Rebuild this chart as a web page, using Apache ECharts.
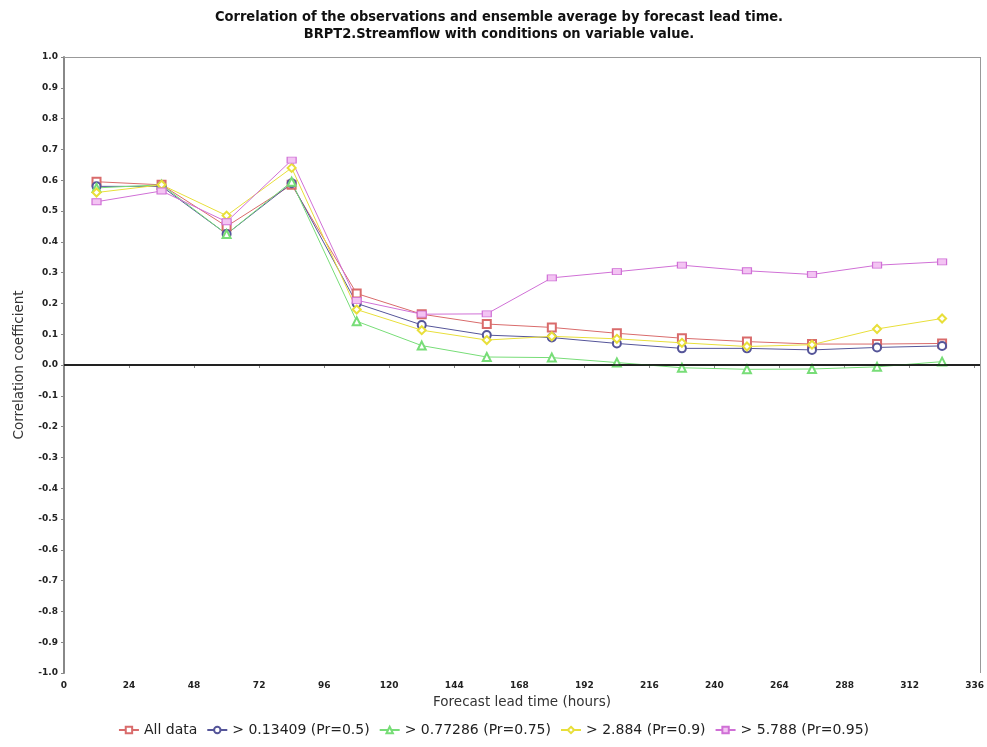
<!DOCTYPE html>
<html><head><meta charset="utf-8">
<script src="https://cdn.jsdelivr.net/npm/echarts@6/dist/echarts.min.js"></script>
<style>html,body{margin:0;padding:0;background:#fff}#c{width:987px;height:747px}</style>
</head><body><div id="c"></div>
<script>
const leadTimes = [12, 36, 60, 84, 108, 132, 156, 180, 204, 228, 252, 276, 300, 324];
const allData = [0.595, 0.585, 0.45, 0.585, 0.232, 0.165, 0.133, 0.122, 0.103, 0.087, 0.076, 0.068, 0.068, 0.070];
const gt013409 = [0.580, 0.580, 0.425, 0.590, 0.200, 0.130, 0.097, 0.089, 0.070, 0.054, 0.054, 0.049, 0.057, 0.062];
const gt077286 = [0.575, 0.585, 0.425, 0.595, 0.142, 0.063, 0.026, 0.024, 0.008, -0.009, -0.014, -0.013, -0.006, 0.011];
const gt2884 = [0.560, 0.585, 0.485, 0.640, 0.180, 0.113, 0.081, 0.093, 0.085, 0.072, 0.060, 0.066, 0.117, 0.151];
const gt5788 = [0.530, 0.565, 0.465, 0.665, 0.210, 0.165, 0.166, 0.283, 0.303, 0.324, 0.306, 0.294, 0.324, 0.335];
const seriesNames = ['All data', '> 0.13409 (Pr=0.5)', '> 0.77286 (Pr=0.75)', '> 2.884 (Pr=0.9)', '> 5.788 (Pr=0.95)'];
const xTicks = [0, 24, 48, 72, 96, 120, 144, 168, 192, 216, 240, 264, 288, 312, 336];

const pair = arr => leadTimes.map((t, i) => [t, arr[i]]);
const chart = echarts.init(document.getElementById('c'));
const lab = {color: '#222', fontSize: 9, fontWeight: 'bold', fontFamily: 'DejaVu Sans'};
function mk(name, data, color, symbol, size, fill) {
  return {
    name, type: 'line', data: pair(data), symbol, symbolSize: size,
    lineStyle: {color, width: 1}, itemStyle: {color: fill || color, borderColor: color, borderWidth: 1},
    emphasis: {disabled: true}, animation: false, z: 3
  };
}
chart.setOption({
  animation: false,
  title: {
    text: 'Correlation of the observations and ensemble average by forecast lead time.\nBRPT2.Streamflow with conditions on variable value.',
    left: 494, top: 4, textAlign: 'center',
    textStyle: {fontFamily: 'DejaVu Sans Condensed', fontWeight: 'bold', fontSize: 14.5, color: '#111', lineHeight: 17}
  },
  legend: {
    bottom: 5, left: 'center', itemGap: 9, itemWidth: 20, itemHeight: 8,
    textStyle: {fontFamily: 'DejaVu Sans', fontSize: 14, color: '#222'},
    data: seriesNames
  },
  grid: {left: 64, right: 2, top: 57, bottom: 74},
  xAxis: {
    type: 'value', min: 0, max: 338, interval: 24,
    name: 'Forecast lead time (hours)', nameLocation: 'middle', nameGap: 22,
    nameTextStyle: {fontFamily: 'DejaVu Sans', fontSize: 13.5, color: '#333'},
    axisLine: {show: true, lineStyle: {color: '#888', width: 2}},
    axisTick: {show: true, length: 3, lineStyle: {color: '#888'}},
    axisLabel: Object.assign({}, lab, {formatter: v => xTicks.includes(v) ? String(v) : ''}),
    splitLine: {show: false}
  },
  yAxis: {
    type: 'value', min: -1, max: 1, interval: 0.1,
    name: 'Correlation coefficient', nameLocation: 'middle', nameGap: 38,
    nameTextStyle: {fontFamily: 'DejaVu Sans', fontSize: 13.5, color: '#333'},
    axisLine: {show: true, lineStyle: {color: '#888', width: 2}},
    axisTick: {show: true, length: 3, lineStyle: {color: '#888'}},
    axisLabel: Object.assign({}, lab, {margin: 6, formatter: v => v.toFixed(1)}),
    splitLine: {show: false}
  },
  series: [
    mk(seriesNames[0], allData, '#d96b6b', 'emptyRect', 8),
    mk(seriesNames[1], gt013409, '#555599', 'emptyCircle', 8),
    mk(seriesNames[2], gt077286, '#77dd77', 'emptyTriangle', 8),
    mk(seriesNames[3], gt2884, '#e8df3a', 'emptyDiamond', 8),
    Object.assign(mk(seriesNames[4], gt5788, '#d070d6', 'rect', [9, 6], '#f3c4f3'), {
      markLine: {
        silent: true, symbol: 'none', label: {show: false},
        lineStyle: {color: '#000', width: 1.5, type: 'solid'},
        data: [{yAxis: 0}]
      }
    }),
    {
      type: 'line', data: [], silent: true,
      markLine: {silent: true, symbol: 'none', label: {show: false},
        lineStyle: {color: '#999', width: 1, type: 'solid'},
        data: [{yAxis: 1}, {xAxis: 338}]}
    }
  ]
});
</script></body></html>
